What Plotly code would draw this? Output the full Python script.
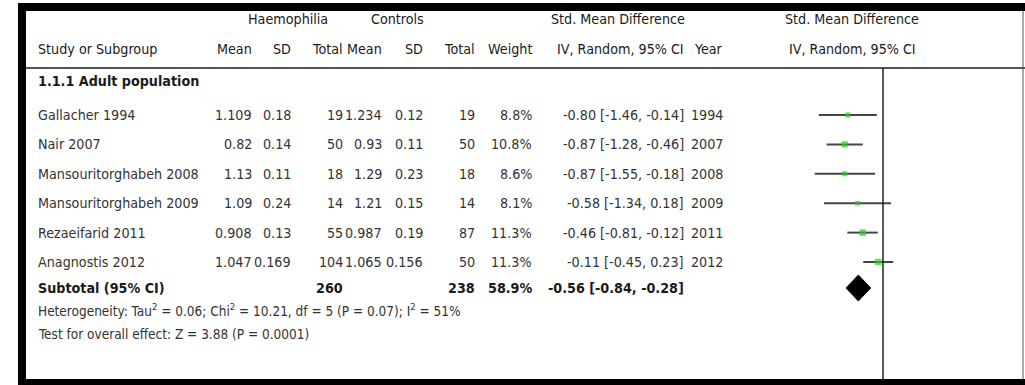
import plotly.graph_objects as go

W, H = 1025, 385

# ---- data -------------------------------------------------------------
studies = ["Gallacher 1994", "Nair 2007", "Mansouritorghabeh 2008",
           "Mansouritorghabeh 2009", "Rezaeifarid 2011", "Anagnostis 2012"]
haem_mean = ["1.109", "0.82", "1.13", "1.09", "0.908", "1.047"]
haem_sd = ["0.18", "0.14", "0.11", "0.24", "0.13", "0.169"]
haem_n = [19, 50, 18, 14, 55, 104]
ctrl_mean = ["1.234", "0.93", "1.29", "1.21", "0.987", "1.065"]
ctrl_sd = ["0.12", "0.11", "0.23", "0.15", "0.19", "0.156"]
ctrl_n = [19, 50, 18, 14, 87, 50]
weight = [8.8, 10.8, 8.6, 8.1, 11.3, 11.3]
smd = [-0.80, -0.87, -0.87, -0.58, -0.46, -0.11]
ci_lo = [-1.46, -1.28, -1.55, -1.34, -0.81, -0.45]
ci_hi = [-0.14, -0.46, -0.18, 0.18, -0.12, 0.23]
years = [1994, 2007, 2008, 2009, 2011, 2012]

pooled_smd, pooled_lo, pooled_hi = -0.56, -0.84, -0.28
subgroup = "1.1.1 Adult population"
heterogeneity = ("Heterogeneity: Tau<sup>2</sup> = 0.06; Chi<sup>2</sup> = 10.21, "
                 "df = 5 (P = 0.07); I<sup>2</sup> = 51%")
overall_test = "Test for overall effect: Z = 3.88 (P = 0.0001)"

# ---- layout helpers ---------------------------------------------------
FONT = "DejaVu Sans Condensed, Liberation Sans Narrow, Liberation Sans, sans-serif"
FS = 14.2
FS_NOTE = 13.5
TXT = "#333333"
HDR = "#1a1a1a"

ROW0, ROWH = 115, 29.4          # pixel centre of first study row, row pitch


def px(x):
    return x / W


def row_of(p):
    return (p - ROW0) / ROWH


def py(p):
    return 1 - p / H


# column anchors (pixels)
X_STUDY = 37
X_HM, X_HSD, X_HN = 253, 292, 344
X_CM, X_CSD, X_CN = 383, 424, 476
X_W, X_CI, X_YR = 533, 685, 724
X_ZERO, PX_PER_UNIT = 883, 44.0

annotations = []


def add_text(text, x, y, anchor="right", bold=False, color=TXT, yref="y", size=FS):
    if bold:
        text = f"<b>{text}</b>"
    annotations.append(dict(
        text=text, x=px(x), y=y, xref="paper", yref=yref,
        xanchor=anchor, yanchor="middle", showarrow=False, borderpad=0,
        font=dict(family=FONT, size=size, color=color),
    ))


# header lines
h1 = py(19)
h2 = py(49)
add_text("Haemophilia", 288, h1, "center", color=HDR, yref="paper")
add_text("Controls", 397, h1, "center", color=HDR, yref="paper")
add_text("Std. Mean Difference", 618, h1, "center", color=HDR, yref="paper")
add_text("Std. Mean Difference", 852, h1, "center", color=HDR, yref="paper")

add_text("Study or Subgroup", X_STUDY, h2, "left", color=HDR, yref="paper")
for label, x in [("Mean", X_HM), ("SD", X_HSD), ("Total", X_HN),
                 ("Mean", X_CM), ("SD", X_CSD), ("Total", X_CN),
                 ("Weight", X_W), ("IV, Random, 95% CI", X_CI), ("Year", X_YR)]:
    add_text(label, x, h2, "right", color=HDR, yref="paper")
add_text("IV, Random, 95% CI", 852, h2, "center", color=HDR, yref="paper")

add_text(subgroup, X_STUDY, py(81), "left", bold=True, color=HDR, yref="paper")

# study rows
for i, name in enumerate(studies):
    add_text(name, X_STUDY, i, "left")
    add_text(haem_mean[i], X_HM, i)
    add_text(haem_sd[i], X_HSD, i)
    add_text(str(haem_n[i]), X_HN, i)
    add_text(ctrl_mean[i], X_CM, i)
    add_text(ctrl_sd[i], X_CSD, i)
    add_text(str(ctrl_n[i]), X_CN, i)
    add_text(f"{weight[i]:.1f}%", X_W, i)
    add_text(f"{smd[i]:.2f} [{ci_lo[i]:.2f}, {ci_hi[i]:.2f}]", X_CI, i)
    add_text(str(years[i]), X_YR, i)

# subtotal row
sub_row = row_of(288)
add_text("Subtotal (95% CI)", X_STUDY, sub_row, "left", bold=True, color=HDR)
add_text(str(sum(haem_n)), X_HN, sub_row, bold=True, color=HDR)
add_text(str(sum(ctrl_n)), X_CN, sub_row, bold=True, color=HDR)
add_text(f"{sum(weight):.1f}%", X_W, sub_row, bold=True, color=HDR)
add_text(f"{pooled_smd:.2f} [{pooled_lo:.2f}, {pooled_hi:.2f}]", X_CI, sub_row,
         bold=True, color=HDR)

add_text(heterogeneity, X_STUDY, row_of(310), "left", size=FS_NOTE)
add_text(overall_test, X_STUDY, row_of(334), "left", size=FS_NOTE)

# ---- forest marks -------------------------------------------------------
fig = go.Figure()

ci_x, ci_y = [], []
for i in range(len(studies)):
    ci_x += [ci_lo[i], ci_hi[i], None]
    ci_y += [i, i, None]
fig.add_trace(go.Scatter(x=ci_x, y=ci_y, mode="lines",
                         line=dict(color="#444444", width=2),
                         hoverinfo="skip", showlegend=False))

fig.add_trace(go.Scatter(x=smd, y=list(range(len(studies))), mode="markers",
                         marker=dict(symbol="square", color="#22d022",
                                     size=[w * 0.58 for w in weight],
                                     line=dict(width=0)),
                         showlegend=False))

half_h = 13 / ROWH
fig.add_trace(go.Scatter(
    x=[pooled_lo, pooled_smd, pooled_hi, pooled_smd, pooled_lo],
    y=[sub_row, sub_row - half_h, sub_row, sub_row + half_h, sub_row],
    mode="lines", fill="toself", fillcolor="#000000",
    line=dict(color="#000000", width=1), showlegend=False, hoverinfo="skip"))

shapes = [
    # header rule
    dict(type="line", xref="paper", yref="paper", x0=px(26), x1=1,
         y0=py(68), y1=py(68), line=dict(color="#555555", width=2)),
    # line of no effect
    dict(type="line", xref="x", yref="paper", x0=0, x1=0,
         y0=py(68), y1=py(379), line=dict(color="#222222", width=1.5)),
    # right edge
    dict(type="line", xref="paper", yref="paper", x0=px(1023), x1=px(1023),
         y0=py(11), y1=py(379), line=dict(color="#555555", width=1)),
    # heavy frame
    dict(type="rect", xref="paper", yref="paper", x0=px(18), x1=1,
         y0=py(11), y1=py(3), fillcolor="#000000", line=dict(width=0)),
    dict(type="rect", xref="paper", yref="paper", x0=px(18), x1=px(26),
         y0=py(385), y1=py(3), fillcolor="#000000", line=dict(width=0)),
    dict(type="rect", xref="paper", yref="paper", x0=px(18), x1=1,
         y0=0, y1=py(379), fillcolor="#000000", line=dict(width=0)),
]

fig.update_layout(
    width=W, height=H, margin=dict(l=0, r=0, t=0, b=0),
    paper_bgcolor="white", plot_bgcolor="white",
    xaxis=dict(range=[-X_ZERO / PX_PER_UNIT, (W - X_ZERO) / PX_PER_UNIT],
               domain=[0, 1], visible=False, fixedrange=True),
    yaxis=dict(range=[row_of(H), row_of(0)], domain=[0, 1],
               visible=False, fixedrange=True),
    annotations=annotations, shapes=shapes,
)

fig.write_html("out.html")
